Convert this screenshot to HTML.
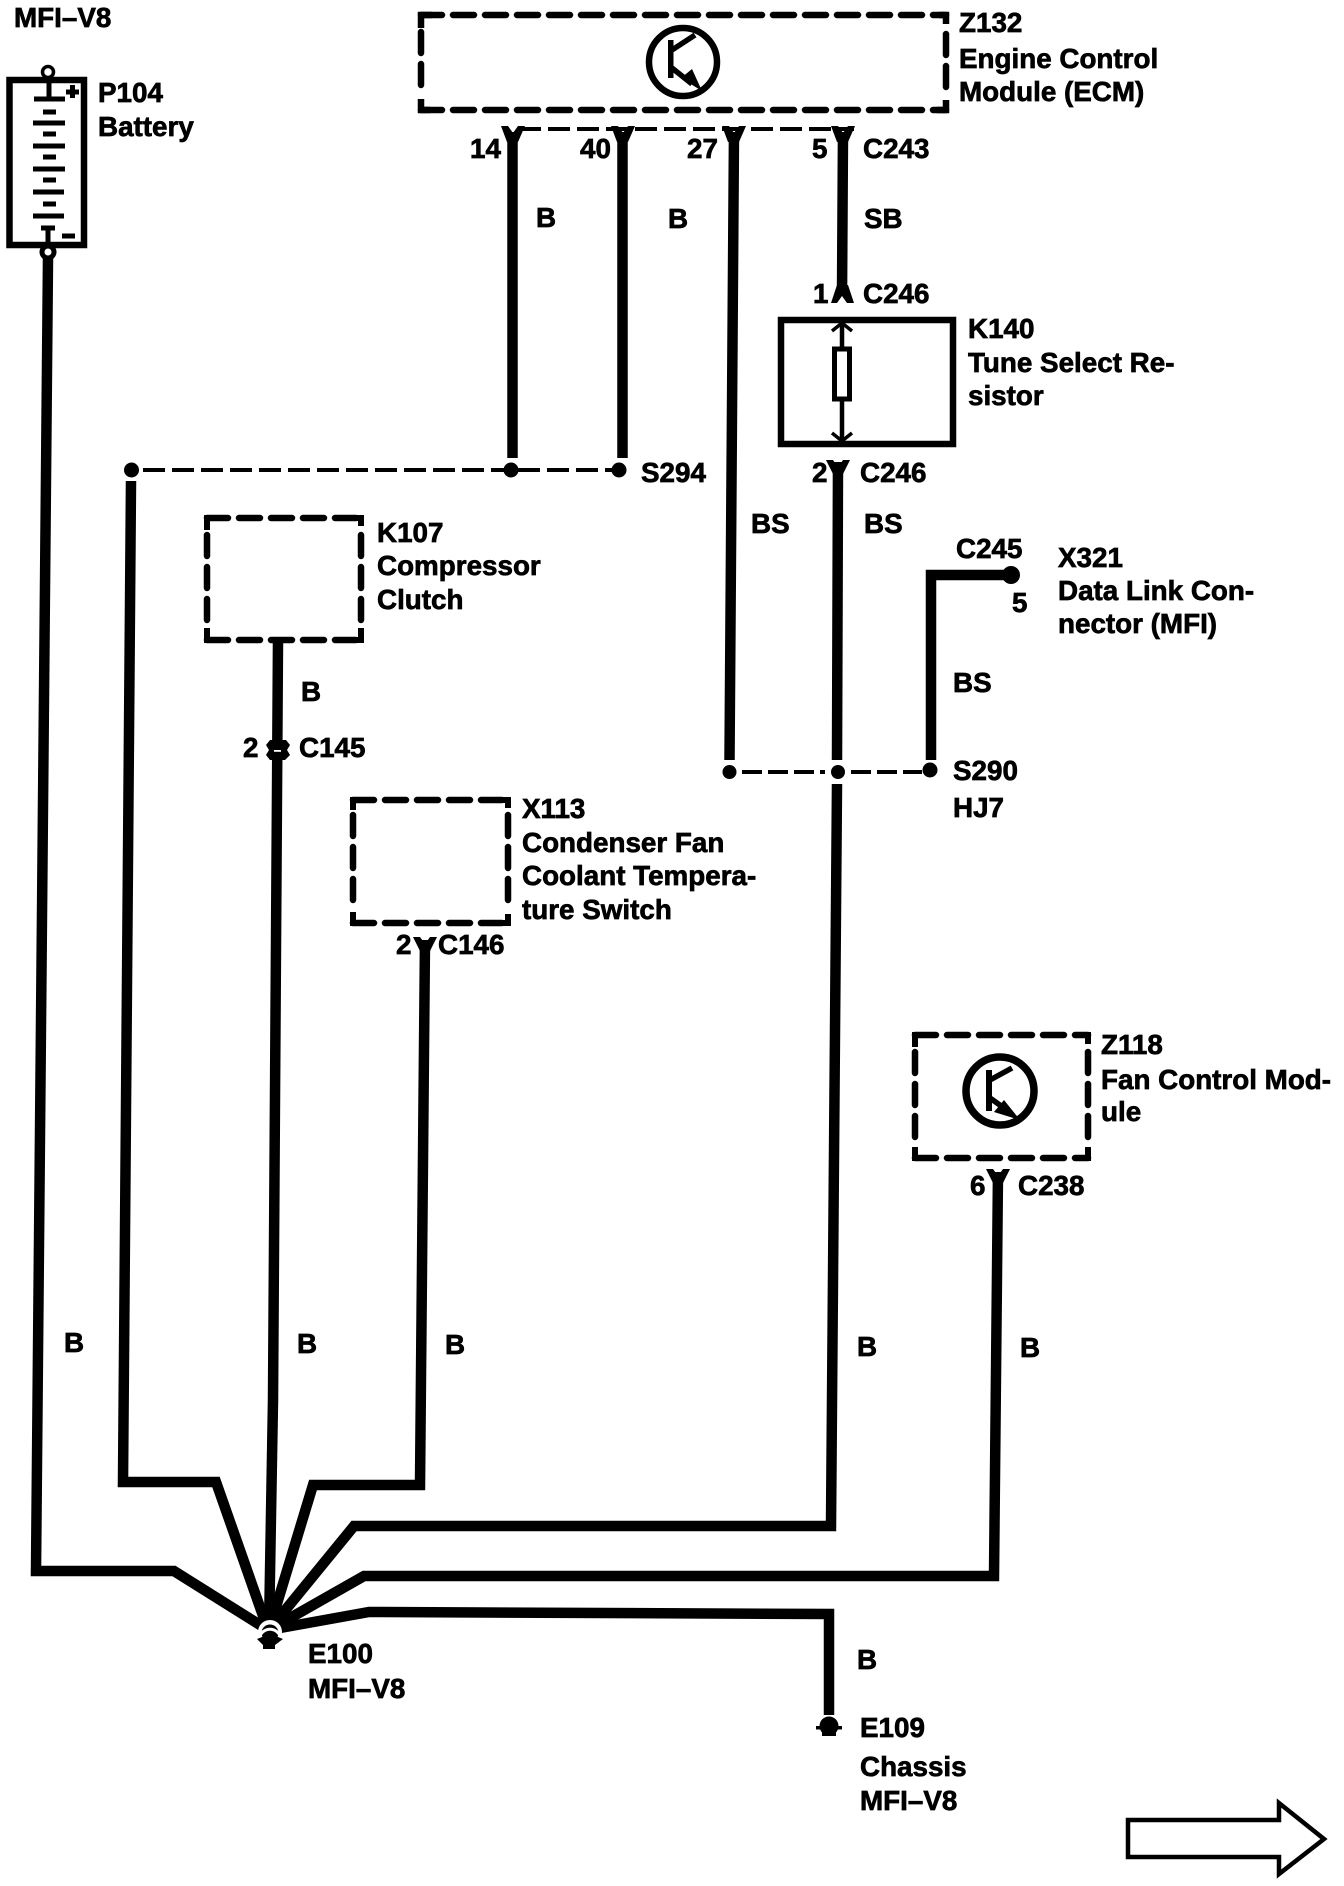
<!DOCTYPE html>
<html>
<head>
<meta charset="utf-8">
<style>
html,body{margin:0;padding:0;background:#fff;}
svg{display:block;}
text{font-family:"Liberation Sans",sans-serif;font-weight:700;font-size:27.8px;fill:#000;stroke:#000;stroke-width:.7px;}
.w{fill:none;stroke:#000;stroke-width:10.5;stroke-linejoin:miter;}
.d{fill:none;stroke:#000;stroke-width:6.5;stroke-dasharray:21 11;stroke-linecap:round;}
.t{fill:none;stroke:#000;stroke-width:4;stroke-dasharray:22 7;}
.l{fill:none;stroke:#000;}
</style>
</head>
<body>
<svg width="1344" height="1886" viewBox="0 0 1344 1886" xmlns="http://www.w3.org/2000/svg">
<rect width="1344" height="1886" fill="#fff"/>

<!-- Battery -->
<circle cx="48" cy="72" r="5.5" fill="#fff" stroke="#000" stroke-width="3.5"/>
<rect x="9.5" y="80" width="74.5" height="165" fill="#fff" stroke="#000" stroke-width="6.5"/>
<g fill="#000">
<rect x="46.5" y="78" width="5" height="20"/>
<rect x="34" y="96.5" width="31" height="5"/>
<rect x="43" y="109.5" width="13" height="5"/>
<rect x="33" y="120.5" width="32" height="5"/>
<rect x="43" y="131.5" width="13" height="5"/>
<rect x="33" y="143.5" width="32" height="5"/>
<rect x="43" y="154.5" width="13" height="5"/>
<rect x="33" y="166.5" width="32" height="5"/>
<rect x="43" y="177.5" width="13" height="5"/>
<rect x="33" y="189.5" width="31" height="5"/>
<rect x="43" y="201.5" width="13" height="5"/>
<rect x="33" y="213.5" width="31" height="5"/>
<rect x="41" y="225.5" width="14" height="5"/>
<rect x="45.5" y="226" width="5" height="22"/>
<rect x="62" y="233.5" width="13" height="5"/>
<rect x="66" y="89.5" width="13" height="5"/>
<rect x="70" y="85" width="5" height="13"/>
</g>

<!-- ECM -->
<path class="d" d="M421 15 H946"/>
<path class="d" d="M421 110 H946"/>
<path class="d" d="M421 32 V96"/>
<path class="d" d="M946 34 V96"/>
<path class="l" stroke-width="6.5" d="M421 28 V15 H432 M939 15 H946 V24 M421 99 V110 H430 M937 110 H946 V100"/>
<circle cx="683" cy="62" r="34" fill="none" stroke="#000" stroke-width="6.5"/>
<rect x="668" y="40" width="5.5" height="38" fill="#000"/>
<path class="l" stroke-width="5.5" d="M672 50 L695 35 M672 68 L692 84"/>
<polygon points="681,78 692,69 702,91" fill="#000"/>

<!-- C243 dashed -->
<path class="t" d="M519 129 H854"/>
<path class="w" d="M512.5 132 V458"/>
<path class="w" d="M622.5 132 V458"/>
<path class="w" d="M734 132 L729.5 760"/>
<path class="w" stroke-width="9" d="M843 132 L842 296"/>
<g fill="#000">
<polygon points="501,126 508,126 513,133 518,126 525,126 518,142 507,142"/>
<polygon points="611,126 618,126 623,133 628,126 635,126 628,142 617,142"/>
<polygon points="722,126 729,126 734,133 739,126 746,126 739,142 728,142"/>
<polygon points="831,126 838,126 843,133 848,126 855,126 848,142 837,142"/>
<polygon points="831,303 837,285 848,285 854,303 847,303 842,296 837,303"/>
</g>

<!-- K140 -->
<rect x="781" y="320" width="172" height="124" fill="none" stroke="#000" stroke-width="6.5"/>
<path class="l" stroke-width="4.5" d="M842 322 V348 M842 400 V442"/>
<rect x="834.5" y="349" width="15" height="50" fill="#fff" stroke="#000" stroke-width="5"/>
<path class="l" stroke-width="3.5" d="M832 331 L842 323 L852 331 M832 433 L842 441 L852 433"/>

<!-- S294 -->
<path class="l" stroke-width="4" stroke-dasharray="22 7" d="M143 470 H505 M518 470 H612"/>
<circle cx="131.5" cy="470" r="7.5" fill="#000"/>
<circle cx="511" cy="470" r="7.5" fill="#000"/>
<circle cx="619" cy="470" r="7.5" fill="#000"/>

<!-- S290 -->
<path class="l" stroke-width="4" stroke-dasharray="20 6" d="M742 772 H825 M851 772 H922"/>
<circle cx="729.5" cy="772" r="7" fill="#000"/>
<circle cx="838" cy="772" r="7" fill="#000"/>
<circle cx="930" cy="770" r="7.5" fill="#000"/>

<!-- Wires -->
<path class="w" d="M48 258 L36 1571 H174 L268 1630"/>
<path class="w" d="M131 481 L123 1482 H216 L268 1630"/>
<path class="w" d="M278 640 L273 1400 L269 1630"/>
<path class="w" d="M425 940 L420 1485 H313 L269 1630"/>
<path class="w" d="M838 462 L837 760 M837 784 L831 1526 H354 L269 1630"/>
<path class="w" d="M998 1172 L994 1576 H364 L269 1630"/>
<path class="w" d="M829 1715 V1614 L369 1612 L269 1630"/>
<path class="w" d="M931 760 V575 H1012"/>

<!-- Y connectors -->
<g fill="#000">
<polygon points="826,460 833,460 838,467 843,460 850,460 843,474 833,474"/>
<polygon points="413,937 420,937 425,944 430,937 437,937 430,951 420,951"/>
<polygon points="986,1169 993,1169 998,1176 1003,1169 1010,1169 1003,1183 993,1183"/>
</g>
<circle cx="1011" cy="575" r="9" fill="#000"/>

<!-- K107 -->
<path class="d" d="M207 518 H361"/>
<path class="d" d="M207 640 H361"/>
<path class="d" d="M207 535 V626"/>
<path class="d" d="M361 535 V626"/>
<path class="l" stroke-width="6" d="M207 530 V518 H216 M353 518 H361 V526 M207 628 V640 H214 M353 640 H361 V628"/>

<!-- C145 -->
<path d="M270 740 H286 L290 745 L287 750 L290 755 L285 760 H270 L266 755 L269 750 L266 745 Z" fill="#000"/>
<rect x="274" y="750" width="7" height="1.8" fill="#fff"/>

<!-- X113 -->
<path class="d" d="M353 800 H508"/>
<path class="d" d="M353 923 H508"/>
<path class="d" d="M353 815 V910"/>
<path class="d" d="M508 815 V910"/>
<path class="l" stroke-width="6" d="M353 810 V800 H362 M500 800 H508 V808 M353 912 V923 H362 M500 923 H508 V914"/>

<!-- Z118 -->
<path class="d" d="M915 1035 H1088"/>
<path class="d" d="M915 1158 H1088"/>
<path class="d" d="M915 1052 V1144"/>
<path class="d" d="M1088 1052 V1144"/>
<path class="l" stroke-width="6" d="M915 1047 V1035 H924 M1080 1035 H1088 V1044 M915 1147 V1158 H925 M1080 1158 H1088 V1147"/>
<circle cx="1000" cy="1091" r="34" fill="none" stroke="#000" stroke-width="7.5"/>
<rect x="986" y="1070" width="6" height="41" fill="#000"/>
<path class="l" stroke-width="5.5" d="M990 1080 L1012 1068 M990 1098 L1004 1108"/>
<polygon points="1004,1100 994,1112 1020,1120" fill="#000"/>

<!-- Battery bottom ring -->
<circle cx="48" cy="252" r="6" fill="#fff" stroke="#000" stroke-width="5"/>

<!-- Ground E100 -->
<circle cx="270" cy="1632" r="12" fill="#fff"/>
<circle cx="270" cy="1633" r="8.5" fill="#000"/>
<path d="M259.5 1637 A11 11 0 0 1 280.5 1637" fill="none" stroke="#fff" stroke-width="3"/>
<polygon points="262,1637 278,1637 283,1639 275,1645 275,1649 263,1649 263,1645 257,1639" fill="#000"/>

<!-- Ground E109 -->
<circle cx="829" cy="1726" r="9.5" fill="#000"/>
<rect x="816" y="1726" width="26" height="3.5" fill="#000"/>
<rect x="822" y="1730" width="14" height="6" fill="#000"/>

<!-- Arrow -->
<path d="M1128 1820 H1279 V1803 L1324 1839 L1279 1874 V1857 H1128 Z" fill="#fff" stroke="#000" stroke-width="4.5" stroke-linejoin="miter"/>

<!-- Labels -->
<text x="14" y="27">MFI–V8</text>
<text x="98" y="102">P104</text>
<text x="98" y="136">Battery</text>
<text x="470" y="158">14</text>
<text x="580" y="158">40</text>
<text x="687" y="158">27</text>
<text x="812" y="158">5</text>
<text x="863" y="158">C243</text>
<text x="536" y="227">B</text>
<text x="668" y="228">B</text>
<text x="864" y="228">SB</text>
<text x="813" y="303">1</text>
<text x="863" y="303">C246</text>
<text x="959" y="32">Z132</text>
<text x="959" y="68">Engine Control</text>
<text x="959" y="101">Module (ECM)</text>
<text x="968" y="338">K140</text>
<text x="968" y="372">Tune Select Re-</text>
<text x="968" y="405">sistor</text>
<text x="641" y="482">S294</text>
<text x="812" y="482">2</text>
<text x="860" y="482">C246</text>
<text x="751" y="533">BS</text>
<text x="864" y="533">BS</text>
<text x="377" y="542">K107</text>
<text x="377" y="575">Compressor</text>
<text x="377" y="609">Clutch</text>
<text x="956" y="558">C245</text>
<text x="1058" y="567">X321</text>
<text x="1058" y="600">Data Link Con-</text>
<text x="1058" y="633">nector (MFI)</text>
<text x="1012" y="612">5</text>
<text x="953" y="692">BS</text>
<text x="953" y="780">S290</text>
<text x="953" y="817">HJ7</text>
<text x="301" y="701">B</text>
<text x="243" y="757">2</text>
<text x="299" y="757">C145</text>
<text x="522" y="818">X113</text>
<text x="522" y="852">Condenser Fan</text>
<text x="522" y="885">Coolant Tempera-</text>
<text x="522" y="919">ture Switch</text>
<text x="396" y="954">2</text>
<text x="438" y="954">C146</text>
<text x="1101" y="1054">Z118</text>
<text x="1101" y="1089">Fan Control Mod-</text>
<text x="1101" y="1121">ule</text>
<text x="970" y="1195">6</text>
<text x="1018" y="1195">C238</text>
<text x="64" y="1352">B</text>
<text x="297" y="1353">B</text>
<text x="445" y="1354">B</text>
<text x="857" y="1356">B</text>
<text x="1020" y="1357">B</text>
<text x="857" y="1669">B</text>
<text x="308" y="1663">E100</text>
<text x="308" y="1698">MFI–V8</text>
<text x="860" y="1737">E109</text>
<text x="860" y="1776">Chassis</text>
<text x="860" y="1810">MFI–V8</text>
</svg>
</body>
</html>
